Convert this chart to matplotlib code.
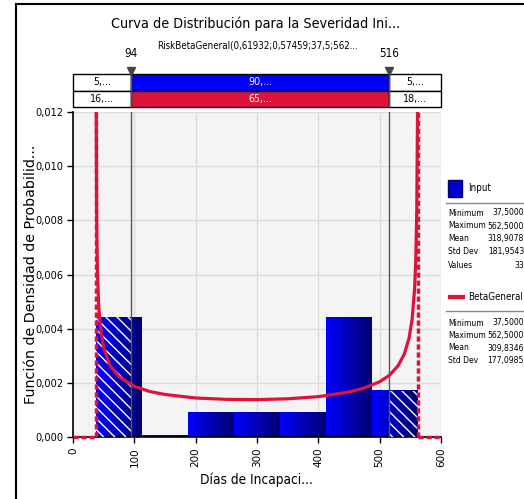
import numpy as np
import matplotlib
matplotlib.use("Agg")
import matplotlib.pyplot as plt
from matplotlib.patches import Rectangle
from matplotlib.lines import Line2D
from matplotlib.colors import LinearSegmentedColormap
from matplotlib import font_manager
from matplotlib.font_manager import FontProperties
from matplotlib.ticker import FuncFormatter, MultipleLocator

# ---------------- data ----------------
title = "Curva de Distribución para la Severidad Ini..."
subtitle = "RiskBetaGeneral(0,61932;0,57459;37,5;562..."
x_label = "Días de Incapaci..."
y_label = "Función de Densidad de Probabilid..."

bin_edges = [37.5, 112.5, 187.5, 262.5, 337.5, 412.5, 487.5, 562.5]
bin_density = [0.00443, 0.00005, 0.00090, 0.00090, 0.00090, 0.00443, 0.00170]

curve_x = [37.9, 38.5, 39, 40, 42, 45, 50, 60, 75, 100, 125, 150, 200, 250, 300,
           350, 400, 450, 475, 500, 516, 530, 540, 548, 553, 557, 559, 560.5, 561.5, 562.1]
curve_y = [0.0120, 0.0085, 0.0073, 0.0060, 0.0048, 0.0040, 0.0033, 0.00265, 0.00222,
           0.00187, 0.00168, 0.00157, 0.00144, 0.00139, 0.00138, 0.00141, 0.00149,
           0.00166, 0.00181, 0.00204, 0.00228, 0.00263, 0.00305, 0.00366, 0.00436,
           0.00549, 0.00662, 0.00840, 0.01128, 0.0130]
beta_min, beta_max = 37.5, 562.5

markers = [94, 516]
input_pct = ["5,...", "90,...", "5,..."]
beta_pct = ["16,...", "65,...", "18,..."]

input_stats = [("Minimum", "37,5000"), ("Maximum", "562,5000"), ("Mean", "318,9078"),
               ("Std Dev", "181,9543"), ("Values", "33")]
beta_stats = [("Minimum", "37,5000"), ("Maximum", "562,5000"), ("Mean", "309,8346"),
              ("Std Dev", "177,0985")]
legend_names = ["Input", "BetaGeneral"]

x_ticks = [0, 100, 200, 300, 400, 500, 600]
y_max = 0.012

# ---------------- style ----------------
BLUE = "#0000FF"
NAVY = "#00006E"
RED = "#DC143C"

# a narrow font if one exists, otherwise Liberation Sans at reduced size
narrow_path = None
keys = ("LiberationSansNarrow-Regular", "DejaVuSansCondensed.ttf",
        "RobotoCondensed-Regular", "OpenSans_Condensed-Regular",
        "OpenSansCondensed-Regular", "NotoSans-Condensed.ttf")
for f in font_manager.fontManager.ttflist:
    if any(k in f.fname for k in keys):
        narrow_path = f.fname
        break

if narrow_path:
    def NF(size):
        return FontProperties(fname=narrow_path, size=size * 1.12)
else:
    def NF(size):
        return FontProperties(family=["Liberation Sans", "DejaVu Sans"], size=size)

WIDE = "DejaVu Sans"
plt.rcParams["hatch.linewidth"] = 1.0

W, H = 524, 499
fig = plt.figure(figsize=(W / 100, H / 100), dpi=100)


def fx(px):
    return px / W


def fy(py):
    return 1 - py / H


# outer frame (cropped at right and bottom)
fig.add_artist(Line2D([fx(16), fx(16)], [fy(4), fy(520)], color="black", lw=1.5))
fig.add_artist(Line2D([fx(16), fx(540)], [fy(4), fy(4)], color="black", lw=1.5))

# ---------------- main axes ----------------
L, R, T, B = 73, 441, 112, 437
ax = fig.add_axes([fx(L), fy(B), (R - L) / W, (B - T) / H])
ax.set_facecolor("#F4F4F4")
ax.grid(True, color="#DCDCDC", lw=1)
ax.set_axisbelow(True)

cmap = LinearSegmentedColormap.from_list("bargrad", [BLUE, NAVY])
grad = np.linspace(0, 1, 128).reshape(1, -1)
for i, h in enumerate(bin_density):
    x0, x1 = bin_edges[i], bin_edges[i + 1]
    ax.imshow(grad, extent=(x0, x1, 0, h), cmap=cmap, aspect="auto",
              origin="lower", zorder=2, interpolation="bilinear")
    lo = (x0, min(x1, markers[0]))
    hi = (max(x0, markers[1]), x1)
    for a, b in (lo, hi):
        if b > a:
            ax.add_patch(Rectangle((a, 0), b - a, h, facecolor="none",
                                   edgecolor="white", lw=0, hatch="\\\\\\", zorder=3))

# beta curve
ax.plot(curve_x, curve_y, color=RED, lw=2.3, zorder=5, solid_capstyle="butt")
for xv in (beta_min, beta_max):
    ax.plot([xv, xv], [0, y_max * 1.2], color=RED, lw=2.5, zorder=5,
            linestyle=(0, (1.5, 0.8)))
ax.plot([0, beta_min], [0, 0], color=RED, lw=2.5, zorder=5, linestyle=(0, (1.5, 0.8)),
        clip_on=False)
ax.plot([beta_max, 600], [0, 0], color=RED, lw=2.5, zorder=5, linestyle=(0, (1.5, 0.8)),
        clip_on=False)

for m in markers:
    ax.axvline(m, color="#555555", lw=1, zorder=6)

ax.set_xlim(0, 600)
ax.set_ylim(0, y_max)
ax.set_xticks(x_ticks)
ax.yaxis.set_major_locator(MultipleLocator(0.002))
ax.yaxis.set_major_formatter(FuncFormatter(lambda v, p: f"{v:.3f}".replace(".", ",")))
ax.tick_params(axis="x", labelrotation=90, labelsize=7.5, length=4, width=1,
               labelfontfamily=WIDE)
ax.tick_params(axis="y", length=4, width=1, pad=3)
for lab in ax.get_yticklabels():
    lab.set_fontproperties(NF(7))
for s in ("top", "right"):
    ax.spines[s].set_visible(False)
for s in ("left", "bottom"):
    ax.spines[s].set_linewidth(1.2)

fig.text(fx(256), fy(480), x_label, ha="center", va="center", fontproperties=NF(8.8))
fig.text(fx(31), fy(274), y_label, ha="center", va="center", rotation=90,
         fontsize=10.3, family=WIDE)

# ---------------- title ----------------
fig.text(fx(256), fy(24), title, ha="center", va="center", fontproperties=NF(9.2))
fig.text(fx(257), fy(45), subtitle, ha="center", va="center", fontproperties=NF(6.3))

# ---------------- table above ----------------
tax = fig.add_axes([fx(L), fy(107), (R - L) / W, (107 - 74) / H])
tax.set_xlim(0, 600)
tax.set_ylim(0, 2)
tax.axis("off")
bounds = [0, markers[0], markers[1], 600]
for row, (vals, mid_col) in enumerate(((input_pct, BLUE), (beta_pct, RED))):
    y0 = 1 - row
    for j in range(3):
        fc = mid_col if j == 1 else "white"
        tc = "white" if j == 1 else "black"
        tax.add_patch(Rectangle((bounds[j], y0), bounds[j + 1] - bounds[j], 1,
                                facecolor=fc, edgecolor="black", lw=1, clip_on=False))
        tax.text((bounds[j] + bounds[j + 1]) / 2, y0 + 0.5, vals[j], ha="center",
                 va="center", color=tc, fontproperties=NF(6.8))
for m in markers:
    tax.plot([m, m], [0, 2], color="#555555", lw=1, clip_on=False)
    tax.plot([m], [2.2], marker="v", color="#444444", markersize=6, clip_on=False)
    tax.annotate(str(m), (m, 2), xytext=(0, 10), textcoords="offset points",
                 ha="center", va="bottom", fontproperties=NF(7.5),
                 annotation_clip=False)

# ---------------- legend panel ----------------
LF = 5.5
fig.add_artist(Rectangle((fx(448), fy(197)), 14 / W, 17 / H, transform=fig.transFigure,
                         facecolor="#0000CC", edgecolor=NAVY, lw=1))
fig.text(fx(468), fy(188), legend_names[0], ha="left", va="center", fontproperties=NF(6.3))
fig.add_artist(Line2D([fx(446), fx(524)], [fy(203), fy(203)], color="#888888", lw=1))
for k, (lab, val) in enumerate(input_stats):
    yy = 213 + k * 13
    fig.text(fx(448), fy(yy), lab, ha="left", va="center", fontproperties=NF(LF))
    fig.text(fx(524), fy(yy), val, ha="right", va="center", fontproperties=NF(LF))

fig.add_artist(Line2D([fx(450), fx(463)], [fy(297), fy(297)], color=RED, lw=3))
fig.text(fx(468), fy(297), legend_names[1], ha="left", va="center", fontproperties=NF(6.3))
fig.add_artist(Line2D([fx(446), fx(524)], [fy(311), fy(311)], color="#888888", lw=1))
for k, (lab, val) in enumerate(beta_stats):
    yy = 323 + k * 12.5
    fig.text(fx(448), fy(yy), lab, ha="left", va="center", fontproperties=NF(LF))
    fig.text(fx(524), fy(yy), val, ha="right", va="center", fontproperties=NF(LF))

fig.savefig("out.png", dpi=100)
